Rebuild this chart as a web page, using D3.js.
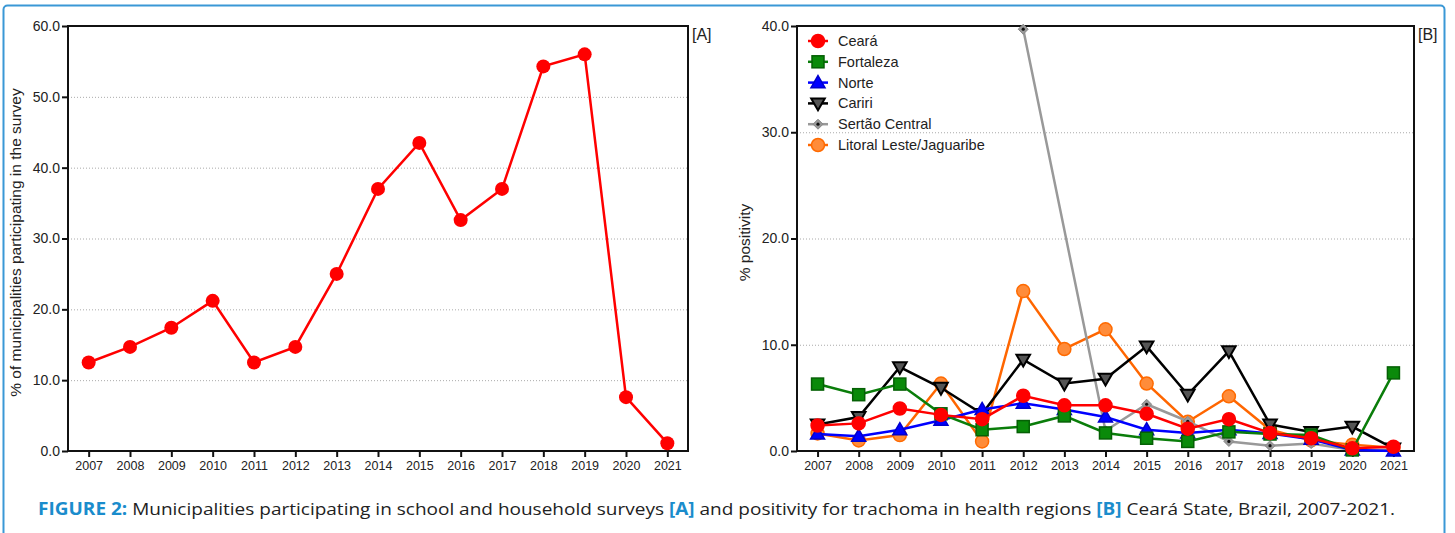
<!DOCTYPE html>
<html>
<head>
<meta charset="utf-8">
<script src="https://d3js.org/d3.v7.min.js"></script>
<style>
  body { margin: 0; background: #fff; }
  svg text { font-family: "Liberation Sans", Arial, sans-serif; fill: #222; }
  .grid line { stroke: #aaa; stroke-dasharray: 1,2; }
</style>
</head>
<body>
<svg width="1455" height="533"></svg>
<script>
var years = [2007, 2008, 2009, 2010, 2011, 2012, 2013, 2014, 2015, 2016, 2017, 2018, 2019, 2020, 2021];

// [A] % of municipalities participating
var participation = [12.5, 14.7, 17.4, 21.2, 12.5, 14.7, 25.0, 37.0, 43.5, 32.6, 37.0, 54.3, 56.0, 7.6, 1.1];

// [B] % positivity by health region
var ceara     = [2.4, 2.6, 4.0, 3.4, 3.0, 5.2, 4.3, 4.3, 3.5, 2.1, 3.0, 1.7, 1.2, 0.25, 0.4];
var fortaleza = [6.3, 5.3, 6.3, 3.5, 2.0, 2.3, 3.3, 1.7, 1.2, 0.9, 1.8, 1.6, 1.5, 0.1, 7.35];
var norte     = [1.6, 1.4, 2.0, 2.9, 3.9, 4.5, 3.9, 3.2, 2.0, 1.7, 2.0, 1.65, 1.1, 0.1, 0.0];
var cariri    = [2.5, 3.2, 7.9, 5.95, 3.5, 8.6, 6.35, 6.8, 9.85, 5.3, 9.4, 2.5, 1.8, 2.3, 0.25];
var sertao    = [null, null, null, null, null, 39.7, null, 1.9, 4.4, 2.8, 0.9, 0.5, 0.7, 0.1, 0.1];
var litoral   = [1.65, 1.0, 1.5, 6.35, 0.9, 15.05, 9.6, 11.45, 6.35, 2.75, 5.15, 2.0, 1.0, 0.6, 0.3];

var regionNames = ["Ceará", "Fortaleza", "Norte", "Cariri", "Sertão Central", "Litoral Leste/Jaguaribe"];
var regionValues = [ceara, fortaleza, norte, cariri, sertao, litoral];

var yTicksA = [0, 10, 20, 30, 40, 50, 60];
var yTicksB = [0, 10, 20, 30, 40];

var styles = [
  {line: "#ff0000", fill: "#ff0000", stroke: "#ff0000", shape: "circle"},
  {line: "#0a7d0a", fill: "#0a8a0a", stroke: "#056005", shape: "square"},
  {line: "#0000ff", fill: "#0000ff", stroke: "#0000cc", shape: "triangle"},
  {line: "#000000", fill: "#555555", stroke: "#000000", shape: "down"},
  {line: "#999999", fill: "#999999", stroke: "#888888", shape: "diamond"},
  {line: "#ff6600", fill: "#ff8c3a", stroke: "#ff6a00", shape: "circleL"}
];

var svg = d3.select("svg");

// outer frame
svg.append("rect")
  .attr("x", 3.5).attr("y", 5.5).attr("width", 1441).attr("height", 540)
  .attr("rx", 4)
  .attr("fill", "none").attr("stroke", "#3a98d6").attr("stroke-width", 2);

function panel(x0, x1, y0, y1, ymax, ticks, title, tag) {
  var x = d3.scalePoint().domain(years).range([x0, x1]).padding(0.5);
  var y = d3.scaleLinear().domain([0, ymax]).range([y1, y0]);
  var g = svg.append("g");

  g.append("g").attr("class", "grid")
    .selectAll("line").data(ticks.filter(function(t) { return t > 0 && t < ymax; }))
    .enter().append("line")
    .attr("x1", x0).attr("x2", x1)
    .attr("y1", function(d) { return y(d) + 0.5; })
    .attr("y2", function(d) { return y(d) + 0.5; });

  // box
  g.append("rect")
    .attr("x", x0).attr("y", y0).attr("width", x1 - x0).attr("height", y1 - y0)
    .attr("fill", "none").attr("stroke", "#111").attr("stroke-width", 2);

  var ya = g.append("g")
    .attr("transform", "translate(" + x0 + ",0)")
    .call(d3.axisLeft(y).tickValues(ticks).tickSize(6).tickPadding(2).tickFormat(d3.format(".1f")));
  ya.select(".domain").remove();
  ya.selectAll("line").attr("stroke", "#111").attr("stroke-width", 2);
  ya.selectAll("text").style("font-size", "14px").attr("fill", "#222");

  var xa = g.append("g")
    .attr("transform", "translate(0," + y1 + ")")
    .call(d3.axisBottom(x).tickSize(6).tickPadding(4));
  xa.select(".domain").remove();
  xa.selectAll("line").attr("stroke", "#111").attr("stroke-width", 2);
  xa.selectAll("text").style("font-size", "12.5px").attr("fill", "#333");

  g.append("text")
    .attr("transform", "translate(" + (x0 - 47) + "," + ((y0 + y1) / 2 + 4) + ") rotate(-90)")
    .attr("text-anchor", "middle")
    .style("font-size", "15.5px")
    .text(title);

  g.append("text")
    .attr("x", x1 + 4).attr("y", y0 + 14)
    .style("font-size", "16px")
    .text(tag);

  return {g: g, x: x, y: y};
}

// ---- panel A
var A = panel(68, 688, 26, 451, 60, yTicksA, "% of municipalities participating in the survey", "[A]");
var lineA = d3.line()
  .x(function(d, i) { return A.x(years[i]); })
  .y(function(d) { return A.y(d); });
A.g.append("path").datum(participation)
  .attr("d", lineA).attr("fill", "none").attr("stroke", "#ff0000").attr("stroke-width", 2.5);
A.g.selectAll(".pt").data(participation).enter().append("circle")
  .attr("cx", function(d, i) { return A.x(years[i]); })
  .attr("cy", function(d) { return A.y(d); })
  .attr("r", 7).attr("fill", "#ff0000");

// ---- panel B
var B = panel(797, 1414, 26, 451, 40, yTicksB, "% positivity", "[B]");

function marker(sel, st, cx, cy) {
  var s;
  if (st.shape === "circle" || st.shape === "circleL") {
    sel.append("circle").attr("cx", cx).attr("cy", cy).attr("r", 6.5)
      .attr("fill", st.fill).attr("stroke", st.stroke).attr("stroke-width", 1.5);
  } else if (st.shape === "square") {
    sel.append("rect").attr("x", cx - 6).attr("y", cy - 6).attr("width", 12).attr("height", 12)
      .attr("fill", st.fill).attr("stroke", st.stroke).attr("stroke-width", 1.5);
  } else if (st.shape === "triangle") {
    s = d3.symbol().type(d3.symbolTriangle).size(85);
    sel.append("path").attr("d", s).attr("transform", "translate(" + cx + "," + (cy + 1) + ")")
      .attr("fill", st.fill).attr("stroke", st.stroke).attr("stroke-width", 1.5);
  } else if (st.shape === "down") {
    s = d3.symbol().type(d3.symbolTriangle).size(80);
    sel.append("path").attr("d", s).attr("transform", "translate(" + cx + "," + (cy - 1) + ") rotate(180)")
      .attr("fill", st.fill).attr("stroke", st.stroke).attr("stroke-width", 2);
  } else if (st.shape === "diamond") {
    sel.append("path").attr("d", "M0,-5L5,0L0,5L-5,0Z").attr("transform", "translate(" + cx + "," + cy + ")")
      .attr("fill", st.fill).attr("stroke", st.stroke).attr("stroke-width", 1);
    sel.append("circle").attr("cx", cx).attr("cy", cy).attr("r", 1.6).attr("fill", "#111");
  }
}

// draw last series first so Ceará ends on top
for (var k = regionValues.length - 1; k >= 0; k--) {
  var vals = regionValues[k], st = styles[k];
  var pts = [];
  vals.forEach(function(v, i) { if (v !== null) pts.push([years[i], v]); });
  var line = d3.line()
    .x(function(d) { return B.x(d[0]); })
    .y(function(d) { return B.y(d[1]); });
  var sg = B.g.append("g");
  sg.append("path").datum(pts).attr("d", line)
    .attr("fill", "none").attr("stroke", st.line).attr("stroke-width", 2.5);
  pts.forEach(function(p) { marker(sg, st, B.x(p[0]), B.y(p[1])); });
}

// legend
var leg = B.g.append("g");
regionNames.forEach(function(name, i) {
  var ly = 41 + i * 20.8;
  leg.append("line").attr("x1", 808).attr("x2", 828).attr("y1", ly).attr("y2", ly)
    .attr("stroke", styles[i].line).attr("stroke-width", 2.5);
  marker(leg, styles[i], 818, ly);
  leg.append("text").attr("x", 838).attr("y", ly + 5).style("font-size", "14.5px").text(name);
});

// caption
var cap = svg.append("text")
  .attr("x", 38).attr("y", 515)
  .style("font-size", "17px").style("font-family", "'Open Sans', sans-serif");
cap.append("tspan").style("font-weight", "bold").style("fill", "#1a8ccc").text("FIGURE 2:");
cap.append("tspan").style("fill", "#222").text(" Municipalities participating in school and household surveys ");
cap.append("tspan").style("font-weight", "bold").style("fill", "#1a8ccc").text("[A]");
cap.append("tspan").style("fill", "#222").text(" and positivity for trachoma in health regions ");
cap.append("tspan").style("font-weight", "bold").style("fill", "#1a8ccc").text("[B]");
cap.append("tspan").style("fill", "#222").text(" Ceará State, Brazil, 2007-2021.");
var w = cap.node().getComputedTextLength();
if (Math.abs(w - 1357) > 10) cap.attr("textLength", 1357).attr("lengthAdjust", "spacingAndGlyphs");
</script>
</body>
</html>
